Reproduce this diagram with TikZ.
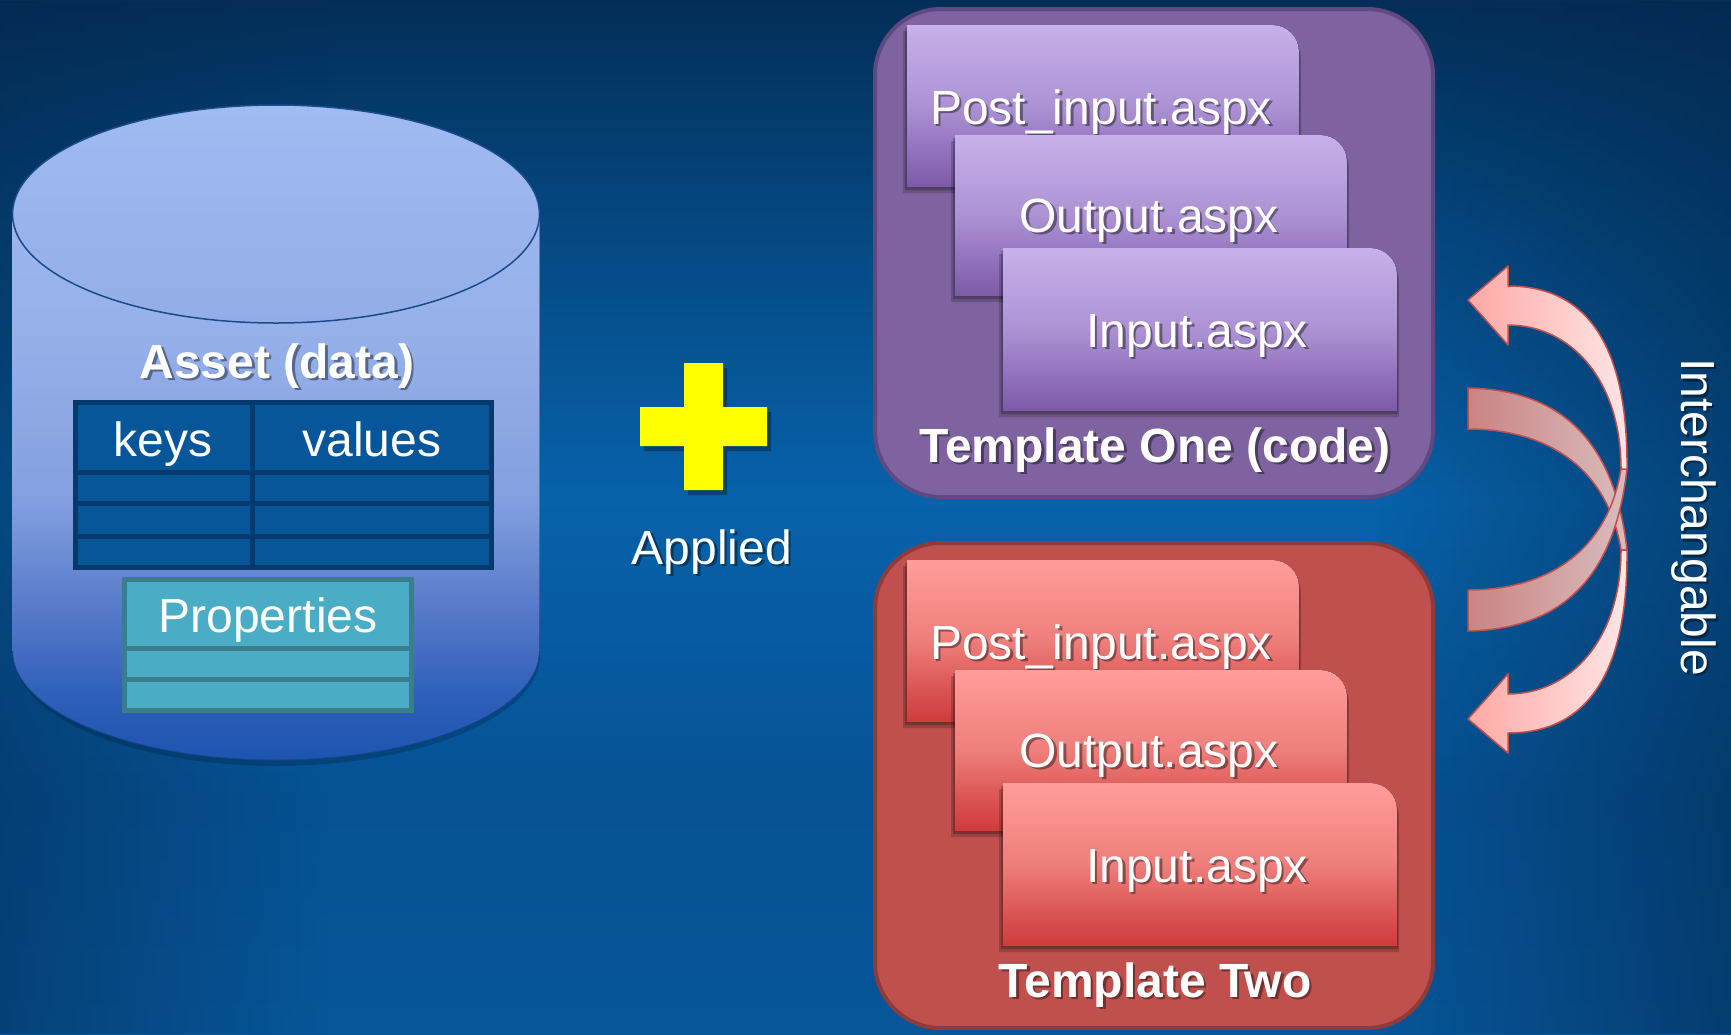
\documentclass[tikz,border=0pt]{standalone}
\usepackage{fontspec}
\setmainfont{Liberation Sans}
\usetikzlibrary{fadings}

\definecolor{bgT}{HTML}{032E57}
\definecolor{bgU}{HTML}{054A85}
\definecolor{bgM}{HTML}{0762AA}
\definecolor{bgC}{HTML}{065294}
\definecolor{bgB}{HTML}{07569A}
\definecolor{bgDark}{HTML}{03284D}

\definecolor{cyA}{HTML}{1C55B0}
\definecolor{cyB}{HTML}{2D5EB8}
\definecolor{cyC}{HTML}{5A7DCB}
\definecolor{cyD}{HTML}{839FDF}
\definecolor{cyE}{HTML}{97B1EA}
\definecolor{cyF}{HTML}{9EB9F1}
\definecolor{cyTopA}{HTML}{A0BAF2}
\definecolor{cyTopB}{HTML}{93ADE8}
\definecolor{cyEdge}{HTML}{1A4C8C}

\definecolor{tabF}{HTML}{07569A}
\definecolor{tabB}{HTML}{063A6C}
\definecolor{prF}{HTML}{4BADC5}
\definecolor{prB}{HTML}{3A7E8E}

\definecolor{puBox}{HTML}{7F63A1}
\definecolor{puBorder}{HTML}{5E4A80}
\definecolor{puA}{HTML}{7C5AA8}
\definecolor{puB}{HTML}{8F6FBB}
\definecolor{puC}{HTML}{AC92D3}
\definecolor{puD}{HTML}{C8B0EA}

\definecolor{rdBox}{HTML}{C0504D}
\definecolor{rdBorder}{HTML}{8E3B3A}
\definecolor{rdA}{HTML}{CF3C3A}
\definecolor{rdB}{HTML}{DA5453}
\definecolor{rdC}{HTML}{EE7E7B}
\definecolor{rdD}{HTML}{FF9D9A}

\definecolor{arLightL}{HTML}{FFA9A5}
\definecolor{arLightR}{HTML}{FFE6E6}
\definecolor{arDarkL}{HTML}{CB8383}
\definecolor{arDarkR}{HTML}{D9BCBD}
\definecolor{arEdge}{HTML}{C0504D}
\definecolor{plusY}{HTML}{FFFF00}

\tikzfading[name=fadeL, left color=transparent!0, right color=transparent!100]
\tikzfading[name=fadeR, left color=transparent!100, right color=transparent!0]

\pgfdeclareverticalshading{bgshade}{100bp}{color(0bp)=(bgB); color(25bp)=(bgB); color(36.3bp)=(bgC); color(50.8bp)=(bgM); color(62.9bp)=(bgU); color(75bp)=(bgT); color(100bp)=(bgT)}
\pgfdeclareverticalshading{cylshade}{100bp}{color(0bp)=(cyA); color(25bp)=(cyA); color(29.6bp)=(cyB); color(37.2bp)=(cyC); color(44.8bp)=(cyD); color(58.4bp)=(cyE); color(75bp)=(cyF); color(100bp)=(cyF)}
\pgfdeclareverticalshading{pushade}{100bp}{color(0bp)=(puA); color(25bp)=(puA); color(35bp)=(puB); color(50bp)=(puC); color(75bp)=(puD); color(100bp)=(puD)}
\pgfdeclareverticalshading{rdshade}{100bp}{color(0bp)=(rdA); color(25bp)=(rdA); color(35bp)=(rdB); color(50bp)=(rdC); color(75bp)=(rdD); color(100bp)=(rdD)}

\tikzset{
  lbl/.style={text=white, inner sep=0pt, anchor=base, font=\fontsize{48}{56}\selectfont},
  blbl/.style={text=white, inner sep=0pt, anchor=base, font=\fontsize{48}{56}\selectfont\bfseries},
  boxpurple/.style={line width=4pt, draw=puBorder, fill=puBox, rounded corners=66pt},
  boxred/.style={line width=4pt, draw=rdBorder, fill=rdBox, rounded corners=66pt},
  tabline/.style={draw=tabB, line width=5pt},
  propline/.style={draw=prB, line width=5pt},
  lightarrow/.style={left color=arLightL, right color=arLightR, draw=arEdge, line width=1.5pt, line join=round},
  darkband/.style={left color=arDarkL, right color=arDarkR, draw=arEdge, line width=1.5pt, line join=round},
}

% text with soft drop shadow: [opt]{name}{style}{x}{y}{text}
\newcommand\shtxt[6][]{%
  \node[#3,#1,text=black,text opacity=0.4] at (#4+2.5,#5+2.5) {#6};
  \node[#3,#1] (#2) at (#4,#5) {#6};}

% document page with rounded top-right corner: {x1}{y1}{x2}{y2}{shading}
\newcommand\docpage[5]{%
  \fill[black,opacity=0.18] (#1-4,#2+6) -- (#3-25,#2+6) .. controls (#3-10,#2+6) and (#3+2,#2+18) .. (#3+2,#2+33) -- (#3+2,#4+6) -- (#1-4,#4+6) -- cycle;
  \fill[black,opacity=0.22] (#1-2,#2+3) -- (#3-26,#2+3) .. controls (#3-11,#2+3) and (#3+1,#2+15) .. (#3+1,#2+30) -- (#3+1,#4+3) -- (#1-2,#4+3) -- cycle;
  \fill[shading=#5] (#1,#2) -- (#3-27,#2) .. controls (#3-12,#2) and (#3,#2+12) .. (#3,#2+27) -- (#3,#4) -- (#1,#4) -- cycle;}

\begin{document}
\begin{tikzpicture}[x=1pt,y=-1pt]
\useasboundingbox (0,0) rectangle (1731,1034);
\clip (0,0) rectangle (1731,1034);

% background
\fill[shading=bgshade] (0,0) rectangle (1731,1034);
\fill[bgDark, opacity=0.45, path fading=fadeL] (0,0) rectangle (330,1034);
\fill[bgDark, opacity=0.55, path fading=fadeR] (1380,0) rectangle (1731,1034);

% ---------- cylinder ----------
\fill[black, opacity=0.18] (14,655) .. controls (14,716) and (131,766) .. (276,766) .. controls (421,766) and (540,716) .. (540,655) -- cycle;
\fill[shading=cylshade] (12.5,214) -- (12.5,651)
  .. controls (12.5,711.2) and (130.5,760) .. (276,760)
  .. controls (421.5,760) and (539.5,711.2) .. (539.5,651)
  -- (539.5,214)
  .. controls (539.5,153.8) and (421.5,105) .. (276,105)
  .. controls (130.5,105) and (12.5,153.8) .. (12.5,214) -- cycle;
\draw[cyA!80!black, line width=1pt] (12.5,651)
  .. controls (12.5,711.2) and (130.5,760) .. (276,760)
  .. controls (421.5,760) and (539.5,711.2) .. (539.5,651);
\draw[cyEdge, line width=1.5pt, top color=cyTopA, bottom color=cyTopB] (276,214) ellipse [x radius=263.5pt, y radius=109pt];

\shtxt{asset}{blbl}{277}{378}{Asset (data)}

% table keys / values
\fill[tabF] (75.5,402.5) rectangle (491.5,567.5);
\draw[tabline] (75.5,402.5) rectangle (491.5,567.5);
\draw[tabline] (252,402.5) -- (252,567.5);
\draw[tabline] (75.5,472) -- (491.5,472);
\draw[tabline] (75.5,503) -- (491.5,503);
\draw[tabline] (75.5,536) -- (491.5,536);
\node[lbl] (keys) at (163,456) {keys};
\node[lbl] (values) at (372,456) {values};

% properties
\fill[prF] (124.5,579.5) rectangle (411.5,710.5);
\draw[propline] (124.5,579.5) rectangle (411.5,710.5);
\draw[propline] (124.5,648) -- (411.5,648);
\draw[propline] (124.5,679) -- (411.5,679);
\node[lbl] (props) at (268,632) {Properties};

% ---------- plus ----------
\fill[black, opacity=0.3] (688,368) -- (727,368) -- (727,412) -- (771,412) -- (771,451) -- (727,451) -- (727,495) -- (688,495) -- (688,451) -- (644,451) -- (644,412) -- (688,412) -- cycle;
\fill[plusY] (684,363) -- (723,363) -- (723,407) -- (767,407) -- (767,446) -- (723,446) -- (723,490) -- (684,490) -- (684,446) -- (640,446) -- (640,407) -- (684,407) -- cycle;
\shtxt{applied}{lbl}{712}{564}{Applied}

% ---------- Template One ----------
\draw[boxpurple] (875,9) rectangle (1433,497);
\docpage{907}{25}{1299}{187}{pushade}
\shtxt{p1post}{lbl}{1101}{124}{Post\_input.aspx}
\docpage{955}{135}{1347}{296}{pushade}
\shtxt{p1out}{lbl}{1149}{232}{Output.aspx}
\docpage{1003}{248}{1397}{411}{pushade}
\shtxt{p1in}{lbl}{1197}{347}{Input.aspx}
\shtxt{tone}{blbl}{1155}{462}{Template One (code)}

% ---------- Template Two ----------
\draw[boxred] (875,543) rectangle (1433,1028);
\docpage{907}{560}{1299}{722}{rdshade}
\shtxt{p2post}{lbl}{1101}{659}{Post\_input.aspx}
\docpage{955}{670}{1347}{831}{rdshade}
\shtxt{p2out}{lbl}{1149}{767}{Output.aspx}
\docpage{1003}{783}{1397}{946}{rdshade}
\shtxt{p2in}{lbl}{1197}{882}{Input.aspx}
\shtxt{ttwo}{blbl}{1155}{997}{Template Two}

% ---------- interchangeable arrows ----------
% arrow A: tail upper left (dark back), head lower left (light front)
\path[darkband] (1468,388) .. controls (1565,390) and (1615,445) .. (1627,550)
  -- (1621,550) .. controls (1608,470) and (1550,429) .. (1468,429) -- cycle;
\path[lightarrow] (1627,550) .. controls (1628,669) and (1590,733) .. (1508,733)
  -- (1508,753) -- (1468,719) -- (1508,674) -- (1508,694)
  .. controls (1570,694) and (1621,640) .. (1621,550) -- cycle;
% arrow B: tail lower left (dark back), head upper left (light front)
\path[darkband] (1468,631) .. controls (1565,629) and (1615,574) .. (1627,469)
  -- (1621,469) .. controls (1608,549) and (1550,590) .. (1468,590) -- cycle;
\path[lightarrow] (1627,469) .. controls (1628,350) and (1590,286) .. (1508,286)
  -- (1508,266) -- (1468,300) -- (1508,345) -- (1508,325)
  .. controls (1570,325) and (1621,379) .. (1621,469) -- cycle;

\shtxt[rotate=-90]{inter}{lbl}{1681}{517}{Interchangable}
\end{tikzpicture}
\end{document}
